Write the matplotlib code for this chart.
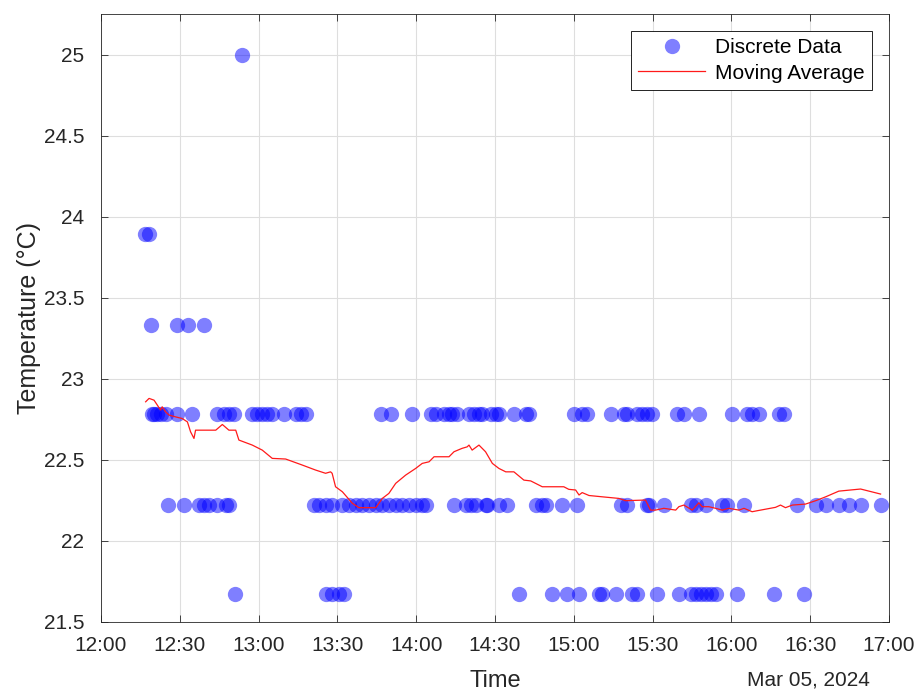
import numpy as np
import matplotlib
matplotlib.use("Agg")
import matplotlib.pyplot as plt
import matplotlib.dates as mdates
from datetime import datetime, timedelta

plt.rcParams['font.family'] = ['Liberation Sans', 'DejaVu Sans']

start = datetime(2024, 3, 5, 12, 0)

# readings, minutes after 12:00, grouped by sensor level (deg C)
t_25_00 = [53.7]
t_23_89 = [16.7, 18.3]
t_23_33 = [19.0, 28.9, 33.1, 39.2]
t_22_78 = [19.5, 20.2, 21.5, 22.7, 24.6, 29.0, 34.8, 44.3, 46.8, 48.7, 50.6,
           57.6, 59.5, 61.4, 63.3, 65.2, 69.7, 74.1, 76.0, 77.9, 106.5, 110.3,
           118.5, 125.5, 127.4, 130.6, 132.5, 133.7, 135.6, 140.1, 142.0, 143.9,
           145.1, 148.3, 150.2, 151.5, 157.2, 161.7, 162.9, 180.1, 183.2, 185.1,
           194.0, 199.1, 200.3, 204.2, 206.1, 208.0, 209.9, 219.4, 221.9, 227.6,
           240.3, 246.0, 247.9, 250.5, 258.1, 260.0]
t_22_22 = [25.6, 31.6, 37.3, 39.2, 41.1, 44.3, 47.5, 48.7, 81.1, 83.0, 85.5,
           88.0, 91.9, 94.4, 97.0, 99.5, 102.0, 104.6, 107.1, 109.6, 112.2,
           114.7, 117.2, 119.8, 122.3, 123.6, 134.4, 138.8, 140.7, 142.6, 146.4,
           147.0, 151.5, 154.7, 165.5, 168.0, 169.3, 175.6, 181.3, 197.8, 200.3,
           207.9, 208.6, 214.3, 224.5, 226.4, 230.2, 236.5, 238.4, 244.8, 265.1,
           272.1, 275.9, 281.0, 284.8, 289.2, 296.8]
t_21_67 = [50.9, 85.5, 88.0, 90.6, 92.5, 159.1, 171.8, 177.5, 182.0, 189.6,
           190.9, 196.0, 202.3, 204.2, 211.8, 220.1, 224.5, 226.4, 228.3, 230.2,
           232.1, 234.0, 242.2, 256.2, 267.6]

levels = [25.0, 23.89, 23.33, 22.78, 22.22, 21.67]
groups = [t_25_00, t_23_89, t_23_33, t_22_78, t_22_22, t_21_67]

# moving average curve
ma_min = [17.0, 18.3, 20.2, 22.7, 23.3, 24.6, 25.9, 28.4, 30.9, 32.9, 34.1,
          35.4, 36.0, 43.7, 46.2, 48.7, 51.3, 52.5, 57.6, 61.4, 65.2, 70.3,
          76.6, 81.7, 85.5, 87.4, 88.0, 89.3, 91.9, 95.7, 98.2, 104.6, 107.1,
          109.6, 112.2, 116.0, 119.8, 122.3, 124.9, 126.8, 132.5, 134.4, 137.5,
          139.4, 140.1, 141.3, 143.9, 146.4, 149.0, 151.5, 154.1, 157.2, 161.0,
          163.6, 168.0, 176.2, 178.1, 180.7, 182.0, 183.2, 185.8, 190.8, 197.2,
          199.7, 207.3, 209.2, 211.1, 214.3, 218.8, 220.0, 221.9, 225.1, 227.6,
          228.9, 231.4, 234.0, 236.5, 239.0, 242.9, 244.8, 247.9, 249.8, 256.8,
          258.7, 260.6, 263.2, 268.2, 272.1, 275.9, 280.9, 289.2, 296.8]
ma_val = [22.858, 22.879, 22.868, 22.807, 22.827, 22.796, 22.776, 22.765,
          22.755, 22.734, 22.673, 22.632, 22.683, 22.683, 22.718, 22.683,
          22.683, 22.622, 22.591, 22.560, 22.509, 22.505, 22.468, 22.437,
          22.417, 22.426, 22.417, 22.334, 22.303, 22.232, 22.205, 22.205,
          22.262, 22.293, 22.355, 22.406, 22.447, 22.478, 22.488, 22.519,
          22.519, 22.550, 22.571, 22.580, 22.591, 22.560, 22.591, 22.550,
          22.478, 22.447, 22.426, 22.426, 22.375, 22.370, 22.334, 22.334,
          22.318, 22.314, 22.283, 22.298, 22.280, 22.272, 22.262, 22.248,
          22.252, 22.190, 22.190, 22.201, 22.190, 22.211, 22.221, 22.190,
          22.235, 22.211, 22.211, 22.201, 22.190, 22.201, 22.190, 22.201,
          22.180, 22.186, 22.207, 22.221, 22.205, 22.221, 22.227, 22.248,
          22.272, 22.307, 22.320, 22.289]


def to_time(mins):
    return [start + timedelta(minutes=m) for m in mins]


times = []
temps = []
for lv, g in zip(levels, groups):
    times += to_time(g)
    temps += [lv] * len(g)

dark = (0.15, 0.15, 0.15)

fig = plt.figure(figsize=(9.24, 6.92), dpi=100)
ax = fig.add_axes([0.1093, 0.1012, 0.8528, 0.8786])

ax.plot(times, temps, 'o', color=(0, 0, 1), alpha=0.5, markersize=11,
        markeredgewidth=0, label='Discrete Data')
ax.plot(to_time(ma_min), ma_val, '-', color=(1, 0.1, 0.1), linewidth=0.9,
        label='Moving Average')

ax.set_xlim(start, start + timedelta(hours=5))
ax.set_ylim(21.5, 25.25)
ax.set_yticks(np.arange(21.5, 25.01, 0.5))
ax.set_yticklabels(['21.5', '22', '22.5', '23', '23.5', '24', '24.5', '25'])
ax.xaxis.set_major_locator(mdates.MinuteLocator(byminute=[0, 30]))
ax.xaxis.set_major_formatter(mdates.DateFormatter('%H:%M'))

ax.grid(True, color=(0.87, 0.87, 0.87), linewidth=0.8)
ax.set_axisbelow(True)
for sp in ax.spines.values():
    sp.set_color(dark)
    sp.set_linewidth(0.6)
ax.tick_params(direction='in', length=5, width=0.6, color=dark,
               labelsize=15, labelcolor=dark, top=True, right=True)
ax.tick_params(axis='x', pad=10)
ax.tick_params(axis='y', pad=12)

ax.set_xlabel('Time', fontsize=17, color=dark, labelpad=11)
ax.set_ylabel('Temperature (°C)', fontsize=18, color=dark, labelpad=2)
fig.text(0.9416, 0.0173, 'Mar 05, 2024', ha='right', va='center', fontsize=15,
         color=dark)

leg = ax.legend(loc='upper right', fontsize=15, frameon=True, fancybox=False,
                edgecolor='black', framealpha=1, borderaxespad=0.8,
                handlelength=3.2, markerscale=1.0, borderpad=0.35,
                labelspacing=0.32, handletextpad=0.5)
leg.get_frame().set_linewidth(0.6)

fig.savefig('out.png', dpi=100)
